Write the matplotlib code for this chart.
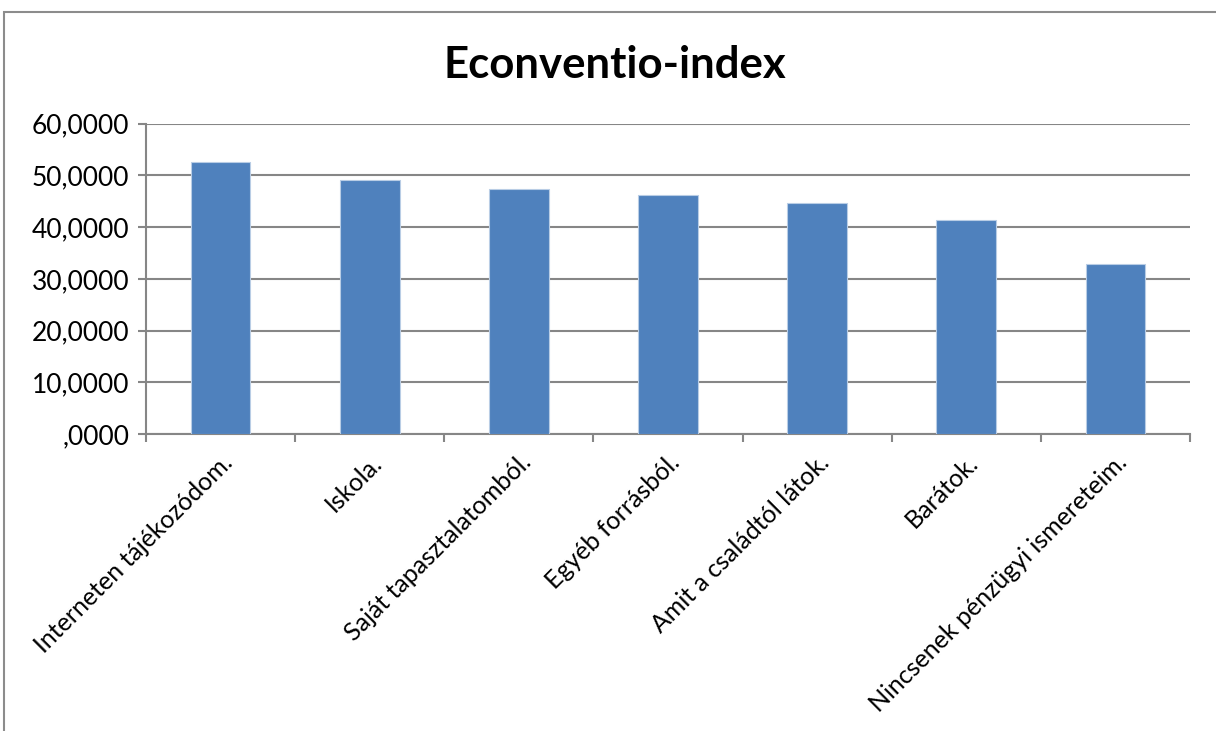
import numpy as np
import matplotlib.pyplot as plt
from matplotlib.patches import Rectangle

categories = ['Interneten tájékozódom.', 'Iskola.', 'Saját tapasztalatomból.', 'Egyéb forrásból.',
              'Amit a családtól látok.', 'Barátok.', 'Nincsenek pénzügyi ismereteim.']
values = [52.65, 49.17, 47.37, 46.3, 44.6, 41.3, 32.86]
yticks = [0, 10, 20, 30, 40, 50, 60]
ytick_labels = [',0000', '10,0000', '20,0000', '30,0000', '40,0000', '50,0000', '60,0000']

plt.rcParams['font.family'] = ['Lato', 'DejaVu Sans']

fig = plt.figure(figsize=(12.16, 7.31), dpi=100)
# chart border
fig.patches.append(Rectangle((4/1216, -0.1), 1.2, 1 - 12/731 + 0.1, transform=fig.transFigure,
                             fill=False, edgecolor='#8c8c8c', linewidth=1.5, zorder=0))

ax = fig.add_axes([146/1216, 1 - 434/731, (1190 - 146)/1216, (434 - 123.7)/731])
x = np.arange(len(categories))
ax.bar(x, values, width=0.4, color='#4F81BD', edgecolor='#b9cde5', linewidth=0.8, zorder=3)

ax.set_xlim(-0.5, len(categories) - 0.5)
ax.set_ylim(0, 60)
ax.set_yticks(yticks)
ax.set_yticklabels(ytick_labels, fontsize=19)
ax.yaxis.grid(True, color='#868686', linewidth=1.5, zorder=0)
ax.set_axisbelow(True)

ax.set_xticks(x)
ax.set_xticklabels(categories, rotation=45, ha='right', va='top', rotation_mode='anchor', fontsize=18)
ax.tick_params(axis='x', length=0, pad=12)
ax.set_xticks(np.arange(len(categories) + 1) - 0.5, minor=True)
ax.tick_params(axis='x', which='minor', length=6, color='#868686', width=1.5)
ax.tick_params(axis='y', length=6, color='#868686', width=1.5, pad=6)

for s in ['top', 'right']:
    ax.spines[s].set_visible(False)
for s in ['left', 'bottom']:
    ax.spines[s].set_color('#868686')
    ax.spines[s].set_linewidth(1.5)

fig.text(615/1216, 1 - 65/731, 'Econventio-index', ha='center', va='center', fontsize=31.5, fontweight='bold')

plt.savefig('out.png', dpi=100)
